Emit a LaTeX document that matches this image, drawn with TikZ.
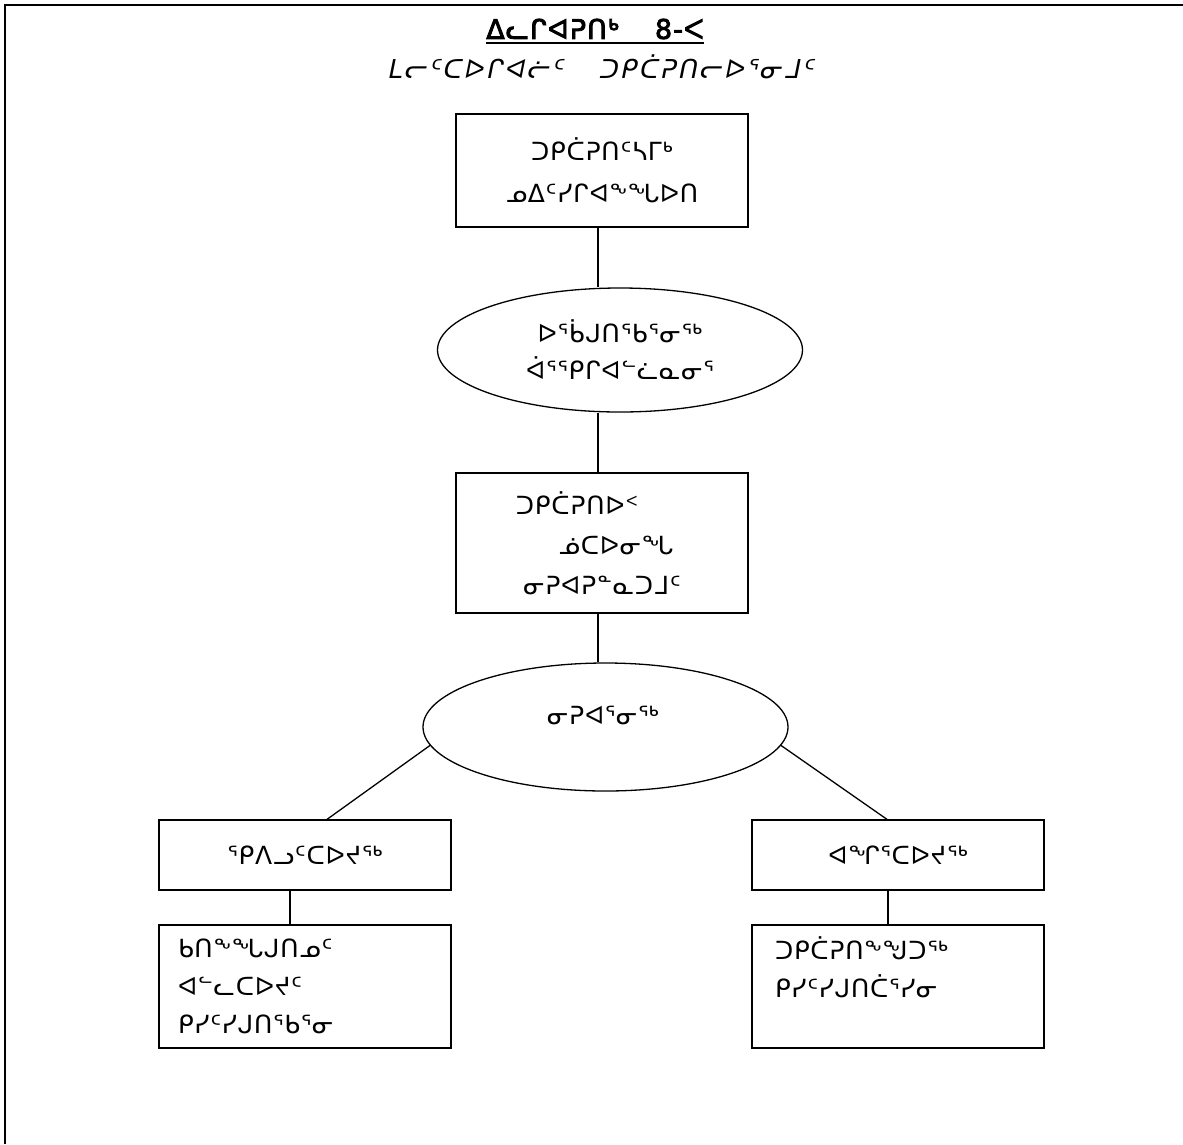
\documentclass[tikz,border=0pt]{standalone}
\usepackage{fontspec}
\setmainfont{DejaVu Sans}
\newfontfamily\titlefont[FakeBold=3,LetterSpace=4]{DejaVu Sans}
\newfontfamily\slantfont[FakeSlant=0.2,LetterSpace=9]{DejaVu Sans}
\newfontfamily\bodyfont[LetterSpace=3]{DejaVu Sans}
\usetikzlibrary{shapes.geometric}
\begin{document}
\begin{tikzpicture}[x=1pt,y=-1pt,
  txt/.style={font=\bodyfont\fontsize{25}{40}\selectfont},
  box/.style={draw,line width=1.3pt,minimum width=292pt,inner sep=0pt,txt,align=center},
  oval/.style={draw,ellipse,line width=1.3pt,minimum width=365pt,inner sep=0pt,txt,align=center},
  link/.style={line width=1.3pt}]
\useasboundingbox (0,0) rectangle (1183,1144);
\draw[line width=2pt] (5,1144) -- (5,5) -- (1183,5);

\node[inner sep=0pt,font=\titlefont\fontsize{27}{30}\selectfont] (t1) at (595,29) {ᐃᓚᒋᐊᕈᑎᒃ\hspace{36pt}8-ᐸ};
\draw[line width=1.6pt] ([yshift=-4pt]t1.base west) -- ([yshift=-4pt]t1.base east);
\node[inner sep=0pt,font=\slantfont\fontsize{26}{30}\selectfont] (t2) at (600,67) {ᒪᓕᑦᑕᐅᒋᐊᓖᑦ\hspace{36pt}ᑐᑭᑖᕈᑎᓕᐅᕐᓂᒧᑦ};

\node[box,minimum height=113pt,font=\bodyfont\fontsize{25}{42}\selectfont] (b1) at (602,170.5) {ᑐᑭᑖᕈᑎᑦᓴᒥᒃ\\ᓄᐃᑦᓯᒋᐊᖕᖓᐅᑎ};
\node[oval,minimum height=124pt,font=\bodyfont\fontsize{25}{37}\selectfont] (e1) at (620,350) {ᐅᕐᑳᒍᑎᕐᑲᕐᓂᖅ\\ᐋᕐᕐᑭᒋᐊᓪᓛᓇᓂᕐ};
\node[box,minimum height=140pt] (b2) at (602,543) {ᑐᑭᑖᕈᑎᐅᑉ\hspace*{50pt}\mbox{}\\\hspace*{28pt}ᓅᑕᐅᓂᖓ\\ᓂᕈᐊᕈᓐᓇᑐᒧᑦ};
\node[oval,minimum height=128pt] (e2) at (605.5,727) {};
\node[txt] (e2t) at (603,715) {ᓂᕈᐊᕐᓂᖅ};
\node[box,minimum height=70pt] (b3) at (305,855) {ᕐᑭᐱᓗᑦᑕᐅᔪᖅ};
\node[box,minimum height=70pt] (b4) at (898,855) {ᐊᖏᕐᑕᐅᔪᖅ};
\node[box,minimum height=123pt,align=left,text width=254pt,font=\bodyfont\fontsize{25}{38}\selectfont] (b5) at (305,986.5) {ᑲᑎᖕᖓᒍᑎᓄᑦ\\ᐊᓪᓚᑕᐅᔪᑦ\\ᑭᓯᑦᓯᒍᑎᕐᑲᕐᓂ};
\node[box,minimum height=123pt,align=left,text width=246pt,font=\bodyfont\fontsize{25}{38}\selectfont] (b6) at (898,986.5) {ᑐᑭᑖᕈᑎᖕᖑᑐᖅ\\ᑭᓯᑦᓯᒍᑎᑖᕐᓯᓂ\\\mbox{}};

\coordinate (c1) at ([xshift=-4pt]b1.south);
\draw[link] (c1) -- (c1 |- e1.north);
\coordinate (c2) at ([xshift=-4pt]b2.north);
\draw[link] (c2 |- e1.south) -- (c2);
\coordinate (c3) at ([xshift=-4pt]b2.south);
\draw[link] (c3) -- (c3 |- e2.north);
\draw[link] (e2.186) -- ([xshift=22pt]b3.north);
\draw[link] (e2.354) -- ([xshift=-11pt]b4.north);
\draw[link] ([xshift=-15pt]b3.south) -- ([xshift=-15pt]b5.north);
\draw[link] ([xshift=-10pt]b4.south) -- ([xshift=-10pt]b6.north);
\end{tikzpicture}
\end{document}
